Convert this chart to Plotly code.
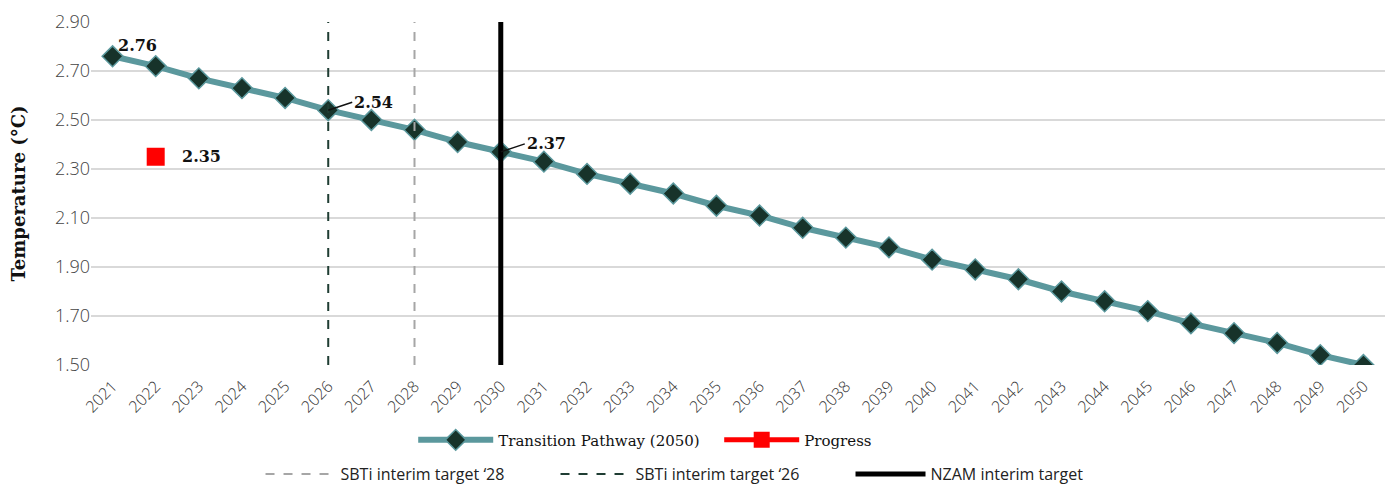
import plotly.graph_objects as go

# Years on the category axis
years = [str(y) for y in range(2021, 2051)]

# Transition pathway temperature (°C) per year
pathway = [2.76, 2.72, 2.67, 2.63, 2.59, 2.54, 2.50, 2.46, 2.41, 2.37,
           2.33, 2.28, 2.24, 2.20, 2.15, 2.11, 2.06, 2.02, 1.98, 1.93,
           1.89, 1.85, 1.80, 1.76, 1.72, 1.67, 1.63, 1.59, 1.54, 1.50]

# Progress point
progress_year = ["2022"]
progress_value = [2.35]

# Interim target years
sbti_28_year = "2028"
sbti_26_year = "2026"
nzam_year = "2030"

# Labelled pathway points
labelled_years = ["2021", "2026", "2030"]

y_ticks = [1.50, 1.70, 1.90, 2.10, 2.30, 2.50, 2.70, 2.90]
y_min, y_max = 1.50, 2.90

teal = "#5b989d"
dark = "#17332a"
serif = "DejaVu Serif"
sans = "Open Sans"

fig = go.Figure()

fig.add_trace(go.Scatter(
    x=years, y=pathway, mode="lines+markers",
    name="Transition Pathway (2050)",
    line=dict(color=teal, width=6),
    marker=dict(symbol="diamond", size=16, color=dark,
                line=dict(color=teal, width=1.5)),
    legend="legend",
))

fig.add_trace(go.Scatter(
    x=progress_year, y=progress_value, mode="lines+markers",
    name="Progress",
    line=dict(color="#ff0000", width=5),
    marker=dict(symbol="square", size=18, color="#ff0000"),
    legend="legend",
))

# Vertical interim-target lines
fig.add_trace(go.Scatter(
    x=[sbti_28_year, sbti_28_year], y=[y_min, y_max + 0.015], mode="lines",
    name="SBTi interim target \u201828",
    line=dict(color="#a6a6a6", width=2, dash="dash"),
    legend="legend2", cliponaxis=False,
))
fig.add_trace(go.Scatter(
    x=[sbti_26_year, sbti_26_year], y=[y_min, y_max + 0.015], mode="lines",
    name="SBTi interim target \u201826",
    line=dict(color="#1f3d33", width=2, dash="dash"),
    legend="legend2", cliponaxis=False,
))
fig.add_trace(go.Scatter(
    x=[nzam_year, nzam_year], y=[y_min, y_max], mode="lines",
    name="NZAM interim target",
    line=dict(color="#000000", width=5),
    legend="legend2", cliponaxis=False,
))

# Value labels (category axis positions are indices)
label_font = dict(family=serif, size=16, color="#111111", weight="bold")
idx = {yr: i for i, yr in enumerate(years)}
first = labelled_years[0]
fig.add_annotation(x=idx[first], y=pathway[idx[first]],
                   text=f"{pathway[idx[first]]:.2f}",
                   showarrow=False, xanchor="left", yanchor="bottom",
                   xshift=3, yshift=-1, font=label_font)
for yr in labelled_years[1:]:
    v = pathway[idx[yr]]
    fig.add_annotation(x=idx[yr], y=v, text=f"{v:.2f}",
                       showarrow=True, arrowhead=0, arrowwidth=1.5,
                       arrowcolor="#111111", ax=24, ay=-8,
                       xanchor="left", yanchor="middle",
                       font=label_font)
fig.add_annotation(x=idx[progress_year[0]], y=progress_value[0],
                   text=f"{progress_value[0]:.2f}", showarrow=False,
                   xanchor="left", yanchor="middle", xshift=24,
                   font=label_font)

fig.update_layout(
    width=1387, height=487,
    margin=dict(l=91, r=2, t=22, b=122, autoexpand=False),
    plot_bgcolor="white", paper_bgcolor="white",
    showlegend=True,
    legend=dict(orientation="h", x=0.249, y=-0.219, xanchor="left",
                yanchor="middle", bgcolor="rgba(0,0,0,0)",
                font=dict(family=serif, size=15, color="#111111"),
                entrywidth=216, entrywidthmode="pixels",
                itemwidth=75),
    legend2=dict(orientation="h", x=0.131, y=-0.318, xanchor="left",
                 yanchor="middle", bgcolor="rgba(0,0,0,0)",
                 font=dict(family=sans, size=16, color="#222222"),
                 entrywidth=210, entrywidthmode="pixels",
                 itemwidth=70),
    xaxis=dict(type="category", tickangle=-45, showgrid=False,
               showline=False, ticks="", automargin=False,
               ticklabelstandoff=8,
               tickfont=dict(family=sans, size=16, color="#333333",
                             weight=300),
               range=[-0.5, len(years) - 0.5]),
    yaxis=dict(range=[y_min, y_max], tickvals=y_ticks,
               ticktext=[f"{v:.2f}" for v in y_ticks],
               showgrid=True, gridcolor="#d9d9d9", gridwidth=1.5,
               zeroline=False, showline=False, ticks="", ticklen=0,
               automargin=False,
               tickfont=dict(family=sans, size=18, color="#444444",
                             weight=300),
               title=dict(text="Temperature (°C)", standoff=24,
                          font=dict(family=serif, size=18, color="#111111",
                                    weight="bold"))),
)

fig.write_html("out.html")
